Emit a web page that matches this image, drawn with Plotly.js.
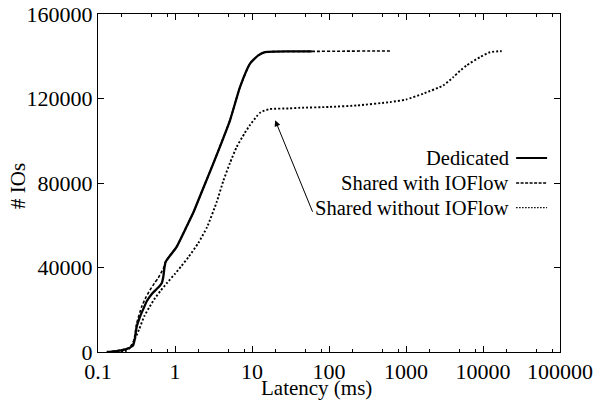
<!DOCTYPE html>
<html>
<head>
<meta charset="utf-8">
<script src="https://cdn.plot.ly/plotly-3.0.1.min.js"></script>
<style>
html,body{margin:0;padding:0;background:#fff;}
#chart{width:599px;height:402px;}
</style>
</head>
<body>
<div id="chart"></div>
<script>
// Latency (ms) vs cumulative # IOs
const dedicatedLatency = [0.13, 0.143, 0.2, 0.25, 0.285, 0.3, 0.318, 0.351, 0.4, 0.429, 0.5, 0.578, 0.64, 0.672, 0.705, 0.73, 0.757, 0.9, 1.05, 1.42, 1.73, 2.01, 3.14, 5.18, 6.98, 9.42, 12.07, 14.75, 20, 40, 60];
const dedicatedIOs     = [0, 100, 800, 1800, 3000, 6000, 12000, 16700, 21500, 24000, 27500, 29800, 31500, 32500, 35600, 40000, 42700, 46500, 49800, 59500, 66000, 71850, 89200, 109700, 125400, 136500, 140400, 141950, 142200, 142300, 142300];

const ioflowLatency = [0.13, 0.143, 0.2, 0.247, 0.285, 0.302, 0.318, 0.369, 0.42, 0.473, 0.54, 0.607, 0.705, 0.757, 0.9, 1.05, 1.42, 1.73, 2.01, 3.14, 5.18, 6.98, 9.42, 12.07, 14.75, 20, 60, 150, 400, 650];
const ioflowIOs     = [0, 100, 900, 1800, 4000, 8000, 13500, 21400, 26000, 29300, 32500, 35100, 39500, 42700, 46500, 49800, 59500, 66000, 71850, 89200, 109700, 125400, 136500, 140400, 141950, 142200, 142300, 142400, 142500, 142500];

const noIoflowLatency = [0.2, 0.224, 0.26, 0.3, 0.34, 0.4, 0.47, 0.55, 0.65, 0.8, 1.0, 1.2, 1.5, 2.0, 2.6, 3.48, 4.24, 5.18, 6.31, 8.0, 9.42, 11.5, 13, 17, 30, 42, 100, 229, 620, 1000, 1680, 3050, 4110, 5000, 6140, 9140, 12300, 16600, 17500];
const noIoflowIOs     = [0, 300, 2000, 6000, 10500, 17000, 21500, 25500, 29000, 33000, 37000, 40500, 45000, 51500, 59000, 71000, 81000, 89500, 97000, 103500, 107500, 111500, 113500, 115000, 115300, 115600, 116000, 116700, 118300, 119500, 122300, 126200, 130100, 133000, 135700, 139600, 141900, 142400, 142400];

const seriesNames = ['Dedicated', 'Shared with IOFlow', 'Shared without IOFlow'];
const xTickVals = [0.1, 1, 10, 100, 1000, 10000, 100000];
const xTickText = ['0.1', '1', '10', '100', '1000', '10000', '100000'];
const xMinorVals = [0.2, 0.5, 0.8, 2, 5, 8, 20, 50, 80, 200, 500, 800, 2000, 5000, 8000, 20000, 50000, 80000];
const yTickVals = [0, 40000, 80000, 120000, 160000];
const yTickText = ['0', '40000', '80000', '120000', '160000'];
const xTitle = 'Latency (ms)';
const yTitle = '# IOs';
const arrowTarget = {latency: 20, ios: 109700};

const FONT = 'Liberation Serif';
const styles = [
  {color: '#000', width: 2.3, dash: 'solid', shape: 'spline', smoothing: 0.5},
  {color: '#000', width: 1.6, dash: '3px,2px', shape: 'spline', smoothing: 0.5},
  {color: '#000', width: 1.9, dash: '2px,2px', shape: 'spline', smoothing: 0.5}
];

const traces = [
  {x: noIoflowLatency, y: noIoflowIOs, name: seriesNames[2], mode: 'lines', line: styles[2]},
  {x: dedicatedLatency, y: dedicatedIOs, name: seriesNames[0], mode: 'lines', line: styles[0]},
  {x: ioflowLatency, y: ioflowIOs, name: seriesNames[1], mode: 'lines', line: styles[1]}
];

// custom legend: right-aligned labels with line samples on the right (gnuplot style)
const legendRows = [0.574, 0.5, 0.427];
const annotations = [];
const shapes = [];
seriesNames.forEach((nm, i) => {
  annotations.push({xref: 'paper', yref: 'paper', x: 0.894, y: legendRows[i], xanchor: 'right', yanchor: 'middle',
    text: nm, showarrow: false, font: {family: FONT, size: 20.5, color: '#000'}});
  shapes.push({type: 'line', xref: 'paper', yref: 'paper', x0: 0.905, x1: 0.972, y0: legendRows[i], y1: legendRows[i],
    line: {color: '#000', width: i === 0 ? 2 : 1.3, dash: i === 0 ? 'solid' : (i === 1 ? '3px,1.5px' : '1.5px,1.5px')}});
});
// axis titles placed as in the reference
annotations.push({xref: 'paper', yref: 'paper', x: 0.473, y: -0.107, xanchor: 'center', yanchor: 'middle',
  text: xTitle, showarrow: false, font: {family: FONT, size: 21, color: '#000'}});
annotations.push({xref: 'paper', yref: 'paper', x: -0.172, y: 0.49, xanchor: 'center', yanchor: 'middle', textangle: -90,
  text: yTitle, showarrow: false, font: {family: FONT, size: 21, color: '#000'}});
annotations.push({x: Math.log10(arrowTarget.latency), y: arrowTarget.ios, xref: 'x', yref: 'y', text: '',
  showarrow: true, arrowhead: 2, arrowsize: 1.2, arrowwidth: 1, arrowcolor: '#000', ax: 38, ay: 93});

const layout = {
  width: 599, height: 402,
  margin: {l: 98, r: 39, t: 14, b: 50},
  paper_bgcolor: '#fff', plot_bgcolor: '#fff',
  showlegend: false,
  font: {family: FONT, size: 20, color: '#000'},
  xaxis: {
    type: 'log', range: [-1, 5], tickmode: 'array', tickvals: xTickVals, ticktext: xTickText,
    ticks: 'inside', ticklen: 6, tickwidth: 1, tickcolor: '#000',
    minor: {tickmode: 'array', tickvals: xMinorVals, ticks: 'inside', ticklen: 3, tickcolor: '#000', showgrid: false},
    showline: true, linecolor: '#000', linewidth: 1, mirror: 'allticks', showgrid: false, zeroline: false,
    tickfont: {family: FONT, size: 22, color: '#000'}
  },
  yaxis: {
    range: [0, 160000], tickmode: 'array', tickvals: yTickVals, ticktext: yTickText,
    ticks: 'inside', ticklen: 6, tickwidth: 1, tickcolor: '#000',
    showline: true, linecolor: '#000', linewidth: 1, mirror: 'allticks', showgrid: false, zeroline: false,
    tickfont: {family: FONT, size: 22, color: '#000'}
  },
  annotations: annotations,
  shapes: shapes
};

Plotly.newPlot('chart', traces, layout, {staticPlot: true, displayModeBar: false});
</script>
</body>
</html>
